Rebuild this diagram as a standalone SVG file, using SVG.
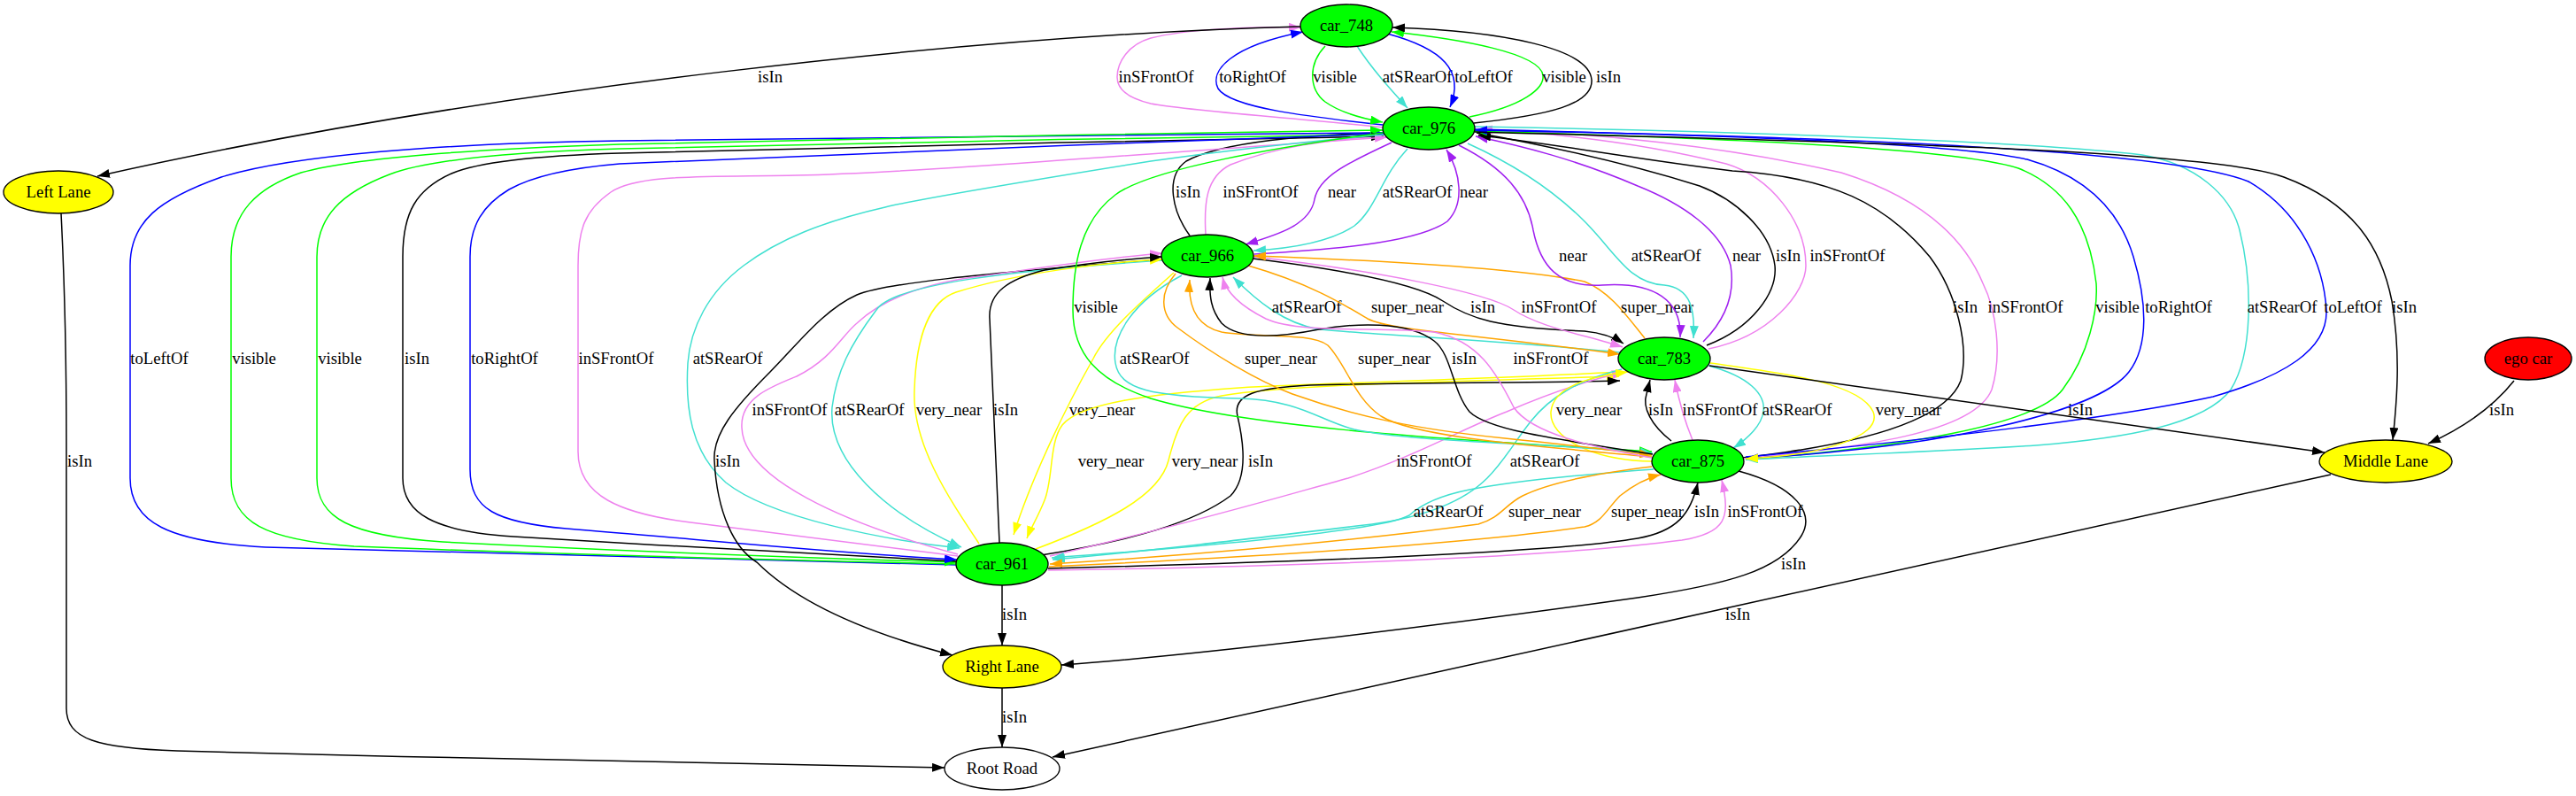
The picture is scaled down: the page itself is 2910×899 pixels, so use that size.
<svg xmlns="http://www.w3.org/2000/svg" width="2910" height="899" viewBox="0 0 2910 899">
<style>
text{font-family:"Liberation Serif","Times New Roman",serif;font-size:18.67px;text-anchor:middle;fill:#000}
.n{stroke:#000;stroke-width:1.33}
.c{fill:none;stroke-width:1.5}
.k{stroke:#000}.b{stroke:#0000ff}.g{stroke:#00ff00}.t{stroke:#40e0d0}.v{stroke:#ee82ee}.p{stroke:#a020f0}.o{stroke:#ffa500}.y{stroke:#ffff00}
</style>
<defs>
<marker id="ak" markerUnits="userSpaceOnUse" markerWidth="14" markerHeight="10" viewBox="0 0 14 10" refX="14" refY="5" orient="auto-start-reverse"><path d="M0,0L14,5L0,10z" fill="#000"/></marker>
<marker id="ab" markerUnits="userSpaceOnUse" markerWidth="14" markerHeight="10" viewBox="0 0 14 10" refX="14" refY="5" orient="auto-start-reverse"><path d="M0,0L14,5L0,10z" fill="#0000ff"/></marker>
<marker id="ag" markerUnits="userSpaceOnUse" markerWidth="14" markerHeight="10" viewBox="0 0 14 10" refX="14" refY="5" orient="auto-start-reverse"><path d="M0,0L14,5L0,10z" fill="#00ff00"/></marker>
<marker id="at" markerUnits="userSpaceOnUse" markerWidth="14" markerHeight="10" viewBox="0 0 14 10" refX="14" refY="5" orient="auto-start-reverse"><path d="M0,0L14,5L0,10z" fill="#40e0d0"/></marker>
<marker id="av" markerUnits="userSpaceOnUse" markerWidth="14" markerHeight="10" viewBox="0 0 14 10" refX="14" refY="5" orient="auto-start-reverse"><path d="M0,0L14,5L0,10z" fill="#ee82ee"/></marker>
<marker id="ap" markerUnits="userSpaceOnUse" markerWidth="14" markerHeight="10" viewBox="0 0 14 10" refX="14" refY="5" orient="auto-start-reverse"><path d="M0,0L14,5L0,10z" fill="#a020f0"/></marker>
<marker id="ao" markerUnits="userSpaceOnUse" markerWidth="14" markerHeight="10" viewBox="0 0 14 10" refX="14" refY="5" orient="auto-start-reverse"><path d="M0,0L14,5L0,10z" fill="#ffa500"/></marker>
<marker id="ay" markerUnits="userSpaceOnUse" markerWidth="14" markerHeight="10" viewBox="0 0 14 10" refX="14" refY="5" orient="auto-start-reverse"><path d="M0,0L14,5L0,10z" fill="#ffff00"/></marker>
</defs>
<rect width="2910" height="899" fill="#fff"/>
<g id="connectors">
<g><path class="c v" marker-end="url(#av)" d="M1563,144 C1450,132 1340,125 1300,117 C1270,110 1262,98 1262,87 C1262,70 1275,50 1300,43 C1340,33 1410,30 1470,31"/><text x="1306" y="93">inSFrontOf</text></g>
<g><path class="c b" marker-end="url(#ab)" d="M1562,141 C1480,132 1390,122 1376,100 C1366,80 1390,52 1472,36"/><text x="1415" y="93">toRightOf</text></g>
<g><path class="c g" marker-end="url(#ag)" d="M1497,52 C1478,72 1478,100 1497,115 C1515,128 1540,134 1562,138"/><text x="1508" y="93">visible</text></g>
<g><path class="c t" marker-end="url(#at)" d="M1533,52 C1550,78 1570,100 1590,122"/><text x="1601" y="93">atSRearOf</text></g>
<g><path class="c b" marker-end="url(#ab)" d="M1567,38 C1630,55 1655,80 1638,121"/><text x="1676" y="93">toLeftOf</text></g>
<g><path class="c g" marker-end="url(#ag)" d="M1660,132 C1720,120 1745,100 1743,85 C1740,60 1650,44 1572,36"/><text x="1767" y="93">visible</text></g>
<g><path class="c k" marker-end="url(#ak)" d="M1665,139 C1750,130 1800,118 1798,90 C1795,55 1700,35 1573,31"/><text x="1817" y="93">isIn</text></g>
<g><path class="c k" marker-end="url(#ak)" d="M1469,30 C1100,40 550,100 110,199"/><text x="870" y="93">isIn</text></g>
<g><path class="c k" marker-end="url(#ak)" d="M1344,266 C1325,240 1315,200 1340,182 C1380,160 1480,152 1562,150"/><text x="1342" y="223">isIn</text></g>
<g><path class="c v" marker-end="url(#av)" d="M1362,265 C1360,230 1362,200 1390,186 C1440,166 1500,158 1563,153"/><text x="1424" y="223">inSFrontOf</text></g>
<g><path class="c p" marker-end="url(#ap)" d="M1572,161 C1520,185 1490,200 1485,225 C1480,255 1440,266 1407,276"/><text x="1516" y="223">near</text></g>
<g><path class="c t" marker-end="url(#at)" d="M1590,168 C1560,200 1555,235 1530,255 C1500,275 1450,281 1416,283"/><text x="1601" y="223">atSRearOf</text></g>
<g><path class="c p" marker-end="url(#ap)" d="M1417,287 C1500,282 1600,275 1635,250 C1655,230 1650,195 1634,169"/><text x="1665" y="223">near</text></g>
<g><path class="c b" marker-start="url(#ab)" d="M1562,150 C1300,152 900,157 700,159 C500,162 330,175 250,200 C180,225 147,250 147,300 L147,540 C147,590 190,612 300,618 C600,625 900,633 1081,638"/><text x="180" y="411">toLeftOf</text></g>
<g><path class="c g" marker-start="url(#ag)" d="M1562,147 C1300,150 900,158 700,163 C550,168 400,178 340,195 C290,212 261,240 261,290 L261,540 C261,590 300,610 400,617 C650,627 900,633 1081,637"/><text x="287" y="411">visible</text></g>
<g><path class="c g" marker-end="url(#ag)" d="M1563,152 C1300,155 900,163 700,168 C560,172 480,182 440,197 C385,218 358,245 358,290 L358,540 C358,585 395,605 500,612 C700,622 900,630 1081,635"/><text x="384" y="411">visible</text></g>
<g><path class="c k" marker-start="url(#ak)" d="M1563,154 C1300,158 900,168 700,173 C600,176 540,183 510,196 C470,214 455,240 455,290 L455,540 C455,580 490,600 580,606 C750,616 950,628 1081,634"/><text x="471" y="411">isIn</text></g>
<g><path class="c b" marker-end="url(#ab)" d="M1564,151 C1300,160 900,176 700,185 C640,190 600,200 575,214 C545,232 531,255 531,290 L531,530 C531,575 560,590 640,597 C800,610 950,625 1081,632"/><text x="570" y="411">toRightOf</text></g>
<g><path class="c v" marker-start="url(#av)" d="M1567,155 C1400,165 1050,195 900,198 C800,200 720,196 690,217 C660,238 653,260 653,300 L653,510 C653,560 700,580 780,590 C900,605 1000,618 1082,628"/><text x="696" y="411">inSFrontOf</text></g>
<g><path class="c t" marker-end="url(#at)" d="M1565,152 C1450,162 1350,175 1300,182 C1200,198 1050,222 1000,234 C930,250 880,270 840,300 C800,330 780,370 777,410 C774,460 780,510 820,545 C870,585 1000,610 1084,619"/><text x="822" y="411">atSRearOf</text></g>
<g><path class="c k" marker-end="url(#ak)" d="M1298,294 C1100,310 1000,320 968,333 C930,350 900,390 870,420 C830,460 805,490 807,520 C810,580 830,620 855,635 C900,680 980,715 1076,740"/><text x="822" y="527">isIn</text></g>
<g><path class="c v" marker-end="url(#av)" d="M1082,626 C950,590 840,540 838,483 C836,450 870,437 900,425 C940,405 950,380 968,365 C1000,335 1050,320 1100,313 C1180,302 1260,290 1313,286"/><text x="892" y="469">inSFrontOf</text></g>
<g><path class="c t" marker-end="url(#at)" d="M1313,294 C1150,305 1010,320 990,350 C960,390 945,420 940,460 C935,520 1000,580 1086,618"/><text x="982" y="469">atSRearOf</text></g>
<g><path class="c y" marker-end="url(#ay)" d="M1106,614 C1070,560 1030,500 1033,440 C1035,380 1050,340 1080,330 C1150,308 1250,296 1313,293"/><text x="1072" y="469">very_near</text></g>
<g><path class="c k" marker-end="url(#ak)" d="M1129,613 L1118,360 C1116,330 1140,315 1180,305 C1230,297 1280,292 1313,290"/><text x="1136" y="469">isIn</text></g>
<g><path class="c y" marker-end="url(#ay)" d="M1326,308 C1290,340 1250,375 1235,405 C1205,458 1165,540 1145,604"/><text x="1245" y="469">very_near</text></g>
<g><path class="c y" marker-end="url(#ay)" d="M1830,420 C1650,430 1500,432 1400,438 C1300,445 1220,455 1200,480 C1185,500 1190,540 1180,565 C1172,585 1165,595 1160,608"/><text x="1255" y="527">very_near</text></g>
<g><path class="c y" marker-end="url(#ay)" d="M1170,620 C1250,590 1310,560 1320,520 C1330,480 1340,455 1380,447 C1450,435 1600,432 1829,425"/><text x="1361" y="527">very_near</text></g>
<g><path class="c k" marker-end="url(#ak)" d="M1176,627 C1280,610 1350,590 1390,560 C1410,540 1405,500 1398,470 C1392,445 1420,438 1480,435 C1600,432 1750,432 1830,430"/><text x="1424" y="527">isIn</text></g>
<g><path class="c v" marker-end="url(#av)" d="M1186,628 C1350,590 1450,560 1523,540 C1600,515 1650,485 1702,465 C1760,440 1800,428 1835,420"/><text x="1620" y="527">inSFrontOf</text></g>
<g><path class="c t" marker-end="url(#at)" d="M1832,417 C1780,430 1750,450 1730,475 C1710,500 1700,520 1680,540 C1650,570 1600,585 1550,592 C1400,610 1300,622 1189,632"/><text x="1745" y="527">atSRearOf</text></g>
<g><path class="c t" marker-end="url(#at)" d="M1830,398 C1700,385 1550,378 1490,372 C1450,365 1420,340 1393,313"/><text x="1476" y="353">atSRearOf</text></g>
<g><path class="c o" marker-end="url(#ao)" d="M1410,300 C1480,320 1520,345 1545,360 C1570,373 1650,376 1830,400"/><text x="1590" y="353">super_near</text></g>
<g><path class="c k" marker-end="url(#ak)" d="M1415,292 C1520,305 1600,320 1630,340 C1660,360 1690,370 1790,374 C1810,376 1825,382 1834,388"/><text x="1675" y="353">isIn</text></g>
<g><path class="c v" marker-end="url(#av)" d="M1416,290 C1550,305 1680,330 1710,350 C1740,370 1790,378 1833,392"/><text x="1761" y="353">inSFrontOf</text></g>
<g><path class="c o" marker-end="url(#ao)" d="M1858,382 C1840,360 1820,330 1790,318 C1700,300 1500,292 1416,289"/><text x="1872" y="353">super_near</text></g>
<g><path class="c p" marker-end="url(#ap)" d="M1648,164 C1700,190 1725,220 1732,260 C1740,300 1760,325 1810,322 C1870,318 1900,340 1898,381"/><text x="1777" y="295">near</text></g>
<g><path class="c t" marker-end="url(#at)" d="M1658,162 C1720,190 1760,220 1790,250 C1825,285 1840,320 1880,322 C1910,325 1915,350 1913,382"/><text x="1882" y="295">atSRearOf</text></g>
<g><path class="c p" marker-end="url(#ap)" d="M1924,386 C1950,360 1960,330 1955,300 C1945,260 1900,230 1850,210 C1780,180 1720,165 1667,154"/><text x="1973" y="295">near</text></g>
<g><path class="c k" marker-end="url(#ak)" d="M1928,390 C1980,370 2008,330 2005,300 C2000,260 1960,225 1920,210 C1840,185 1750,165 1668,150"/><text x="2020" y="295">isIn</text></g>
<g><path class="c v" marker-end="url(#av)" d="M1930,394 C2000,380 2040,330 2040,300 C2040,250 2000,200 1950,185 C1850,160 1750,150 1670,146"/><text x="2087" y="295">inSFrontOf</text></g>
<g><path class="c k" marker-end="url(#ak)" d="M1968,517 C2120,500 2200,470 2215,430 C2225,390 2210,330 2180,290 C2130,230 2070,200 1957,193 C1850,180 1740,160 1670,153"/><text x="2220" y="353">isIn</text></g>
<g><path class="c v" marker-end="url(#av)" d="M1970,518 C2100,505 2230,490 2250,440 C2262,400 2255,350 2240,320 C2215,260 2160,220 2080,195 C1950,165 1800,150 1672,146"/><text x="2288" y="353">inSFrontOf</text></g>
<g><path class="c g" marker-end="url(#ag)" d="M1972,519 C2150,505 2300,480 2330,440 C2360,400 2370,350 2368,320 C2360,250 2330,210 2280,190 C2200,165 1900,155 1666,148"/><text x="2392" y="353">visible</text></g>
<g><path class="c b" marker-end="url(#ab)" d="M1666,146 C1900,152 2200,160 2290,180 C2360,200 2395,240 2410,290 C2425,340 2428,390 2405,420 C2370,465 2200,505 1972,518"/><text x="2461" y="353">toRightOf</text></g>
<g><path class="c t" marker-end="url(#at)" d="M1666,143 C1950,148 2300,160 2420,175 C2480,185 2520,220 2530,260 C2545,320 2545,400 2520,440 C2490,480 2400,495 2300,503 C2150,512 2050,515 1972,519"/><text x="2578" y="353">atSRearOf</text></g>
<g><path class="c b" marker-end="url(#ab)" d="M1972,516 C2200,495 2400,470 2500,448 C2580,425 2630,395 2628,350 C2625,300 2600,240 2540,205 C2450,170 2100,155 1666,147"/><text x="2658" y="353">toLeftOf</text></g>
<g><path class="c k" marker-end="url(#ak)" d="M1666,149 C2100,160 2500,170 2580,200 C2660,230 2690,280 2702,340 C2712,400 2708,450 2703,497"/><text x="2716" y="353">isIn</text></g>
<g><path class="c g" marker-end="url(#ag)" d="M1562,150 C1450,165 1300,190 1260,220 C1220,250 1212,300 1212,350 C1212,400 1240,430 1300,450 C1400,480 1600,495 1866,510"/><text x="1238" y="353">visible</text></g>
<g><path class="c y" marker-end="url(#ay)" d="M1866,521 C1800,520 1750,495 1752,465 C1755,435 1800,425 1839,420"/><text x="1795" y="469">very_near</text></g>
<g><path class="c k" marker-end="url(#ak)" d="M1888,498 C1865,480 1855,460 1860,445 L1864,429"/><text x="1876" y="469">isIn</text></g>
<g><path class="c v" marker-end="url(#av)" d="M1912,497 C1905,480 1898,460 1892,429"/><text x="1943" y="469">inSFrontOf</text></g>
<g><path class="c t" marker-end="url(#at)" d="M1930,413 C1975,425 1995,445 1992,465 C1990,480 1975,495 1958,506"/><text x="2030" y="469">atSRearOf</text></g>
<g><path class="c y" marker-end="url(#ay)" d="M1932,410 C2000,420 2100,430 2116,465 C2128,495 2050,515 1972,518"/><text x="2156" y="469">very_near</text></g>
<g><path class="c k" marker-end="url(#ak)" d="M1931,413 L2626,511"/><text x="2350" y="469">isIn</text></g>
<g><path class="c k" marker-end="url(#ak)" d="M2840,430 C2820,455 2790,480 2743,501"/><text x="2826" y="469">isIn</text></g>
<g><path class="c k" marker-end="url(#ak)" d="M1964,532 C2030,550 2050,580 2035,605 C2010,645 1950,660 1850,675 C1600,710 1350,740 1199,751"/><text x="2026" y="643">isIn</text></g>
<g><path class="c k" marker-end="url(#ak)" d="M2633,536 L1189,855"/><text x="1963" y="700">isIn</text></g>
<g><path class="c k" marker-end="url(#ak)" d="M69,241 C72,300 75,400 75,500 L75,800 C75,835 110,845 200,848 C500,856 850,864 1067,867"/><text x="90" y="527">isIn</text></g>
<g><path class="c k" marker-end="url(#ak)" d="M1132,661 L1132,729"/><text x="1146" y="700">isIn</text></g>
<g><path class="c k" marker-end="url(#ak)" d="M1132,777 L1132,844"/><text x="1146" y="816">isIn</text></g>
<g><path class="c t" marker-end="url(#at)" d="M1335,311 C1280,340 1255,380 1260,410 C1265,440 1300,448 1400,450 C1470,452 1490,475 1530,485 C1600,500 1750,500 1867,512"/><text x="1304" y="411">atSRearOf</text></g>
<g><path class="c o" marker-end="url(#ao)" d="M1328,309 C1310,330 1310,355 1330,370 C1370,400 1420,430 1460,445 C1530,470 1600,485 1700,495 C1780,503 1830,510 1866,514"/><text x="1447" y="411">super_near</text></g>
<g><path class="c o" marker-end="url(#ao)" d="M1866,516 C1750,505 1600,495 1560,470 C1530,450 1520,410 1500,390 C1480,375 1420,382 1380,375 C1350,368 1342,345 1344,316"/><text x="1575" y="411">super_near</text></g>
<g><path class="c k" marker-end="url(#ak)" d="M1867,513 C1750,495 1680,485 1660,465 C1640,440 1640,400 1620,385 C1590,362 1530,365 1490,372 C1450,380 1400,385 1380,365 C1368,350 1366,335 1367,314"/><text x="1654" y="411">isIn</text></g>
<g><path class="c v" marker-end="url(#av)" d="M1866,517 C1800,505 1730,490 1710,460 C1690,420 1670,385 1620,375 C1560,368 1470,378 1430,360 C1400,345 1385,330 1381,313"/><text x="1752" y="411">inSFrontOf</text></g>
<g><path class="c t" marker-end="url(#at)" d="M1868,530 C1760,538 1700,545 1660,553 C1625,560 1605,570 1592,582 C1560,600 1350,618 1188,630"/><text x="1636" y="584">atSRearOf</text></g>
<g><path class="c o" marker-end="url(#ao)" d="M1866,527 C1800,535 1750,545 1720,560 C1700,570 1695,585 1670,592 C1500,615 1300,630 1186,637"/><text x="1745" y="584">super_near</text></g>
<g><path class="c o" marker-end="url(#ao)" d="M1185,640 C1400,630 1650,615 1790,595 C1810,590 1815,575 1830,560 C1845,548 1860,540 1876,536"/><text x="1861" y="584">super_near</text></g>
<g><path class="c k" marker-end="url(#ak)" d="M1184,642 C1450,635 1750,625 1850,608 C1895,600 1910,580 1918,545"/><text x="1928" y="584">isIn</text></g>
<g><path class="c v" marker-end="url(#av)" d="M1184,644 C1450,640 1750,630 1900,610 C1950,602 1955,585 1945,542"/><text x="1994" y="584">inSFrontOf</text></g>
</g>
<g id="car_748"><ellipse class="n" cx="1521" cy="29" rx="52" ry="24" fill="#00ff00"/><text x="1521" y="35">car_748</text></g>
<g id="car_976"><ellipse class="n" cx="1614" cy="145" rx="52" ry="24" fill="#00ff00"/><text x="1614" y="151">car_976</text></g>
<g id="car_966"><ellipse class="n" cx="1364" cy="289" rx="52" ry="24" fill="#00ff00"/><text x="1364" y="295">car_966</text></g>
<g id="car_783"><ellipse class="n" cx="1880" cy="405" rx="52" ry="24" fill="#00ff00"/><text x="1880" y="411">car_783</text></g>
<g id="car_875"><ellipse class="n" cx="1918" cy="521" rx="52" ry="24" fill="#00ff00"/><text x="1918" y="527">car_875</text></g>
<g id="car_961"><ellipse class="n" cx="1132" cy="637" rx="52" ry="24" fill="#00ff00"/><text x="1132" y="643">car_961</text></g>
<g id="left_lane"><ellipse class="n" cx="66" cy="217" rx="62" ry="24" fill="#ffff00"/><text x="66" y="223">Left Lane</text></g>
<g id="middle_lane"><ellipse class="n" cx="2695" cy="521" rx="75" ry="24" fill="#ffff00"/><text x="2695" y="527">Middle Lane</text></g>
<g id="right_lane"><ellipse class="n" cx="1132" cy="753" rx="67" ry="24" fill="#ffff00"/><text x="1132" y="759">Right Lane</text></g>
<g id="root_road"><ellipse class="n" cx="1132" cy="868" rx="65" ry="24" fill="#ffffff"/><text x="1132" y="874">Root Road</text></g>
<g id="ego_car"><ellipse class="n" cx="2856" cy="405" rx="49" ry="24" fill="#ff0000"/><text x="2856" y="411">ego car</text></g>
</svg>
